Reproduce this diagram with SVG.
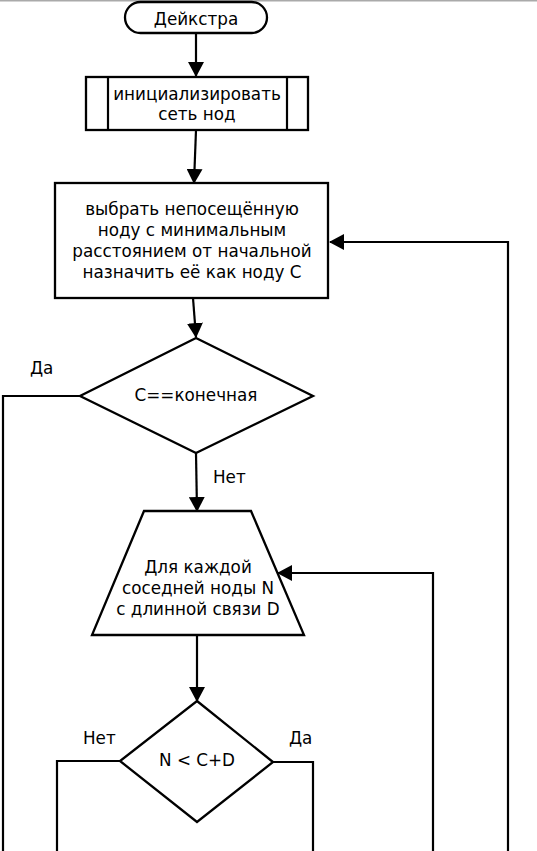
<svg xmlns="http://www.w3.org/2000/svg" width="537" height="851" viewBox="0 0 537 851">
<style>
.shape{fill:#fff;stroke:#000;stroke-width:2.3}
.conn{fill:none;stroke:#000;stroke-width:2.2}
text{font-family:"DejaVu Sans","Noto Sans",sans-serif;font-size:16.8px;fill:#000;text-anchor:middle}
.lbl{text-anchor:start}
</style>
<defs>
<marker id="arr" markerUnits="userSpaceOnUse" markerWidth="16" markerHeight="16" refX="14" refY="8" orient="auto">
<path d="M0,0 L15,8 L0,16 z" fill="#000"/>
</marker>
</defs>
<rect x="0" y="0" width="537" height="851" fill="#fff"/>
<rect x="0" y="0" width="537" height="1.5" fill="#aaa"/>
<g id="connectors">
<path class="conn" d="M196,33 L196,76" marker-end="url(#arr)"/>
<path class="conn" d="M196,130 L194,183" marker-end="url(#arr)"/>
<path class="conn" d="M193,298 L196,337" marker-end="url(#arr)"/>
<path class="conn" d="M80,396 L3,396 L3,851"/>
<path class="conn" d="M196,453 L197,511" marker-end="url(#arr)"/>
<path class="conn" d="M197,635 L197,701" marker-end="url(#arr)"/>
<path class="conn" d="M120,761 L57,761 L57,851"/>
<path class="conn" d="M273,762 L313,762 L313,851"/>
<path class="conn" d="M433,851 L433,573 L278,573" marker-end="url(#arr)"/>
<path class="conn" d="M508,851 L508,242 L330,242" marker-end="url(#arr)"/>
<text class="lbl" x="30" y="374">Да</text>
<text class="lbl" x="213" y="483">Нет</text>
<text class="lbl" x="83" y="744">Нет</text>
<text class="lbl" x="289" y="744">Да</text>
</g>
<g id="start">
<rect class="shape" x="125" y="2" width="142" height="31" rx="15.5"/>
<text x="196" y="25">Дейкстра</text>
</g>
<g id="init">
<rect class="shape" x="86" y="77" width="222" height="53"/>
<line class="conn" x1="108" y1="77" x2="108" y2="130"/>
<line class="conn" x1="287" y1="77" x2="287" y2="130"/>
<text x="197" y="100">инициализировать</text>
<text x="197" y="120">сеть нод</text>
</g>
<g id="select">
<rect class="shape" x="55" y="183" width="273" height="115"/>
<text x="192" y="215">выбрать непосещённую</text>
<text x="192" y="236">ноду с минимальным</text>
<text x="192" y="257">расстоянием от начальной</text>
<text x="192" y="278">назначить её как ноду C</text>
</g>
<g id="isEnd">
<polygon class="shape" points="196,338 313,396 196,453 80,396"/>
<text x="196" y="401">C==конечная</text>
</g>
<g id="forEach">
<polygon class="shape" points="144,511 251,511 304,635 92,635"/>
<text x="198" y="573">Для каждой</text>
<text x="198" y="594">соседней ноды N</text>
<text x="198" y="615">с длинной связи D</text>
</g>
<g id="compare">
<polygon class="shape" points="197,701 273,762 197,822 120,761"/>
<text x="197" y="766">N &lt; C+D</text>
</g>
</svg>
